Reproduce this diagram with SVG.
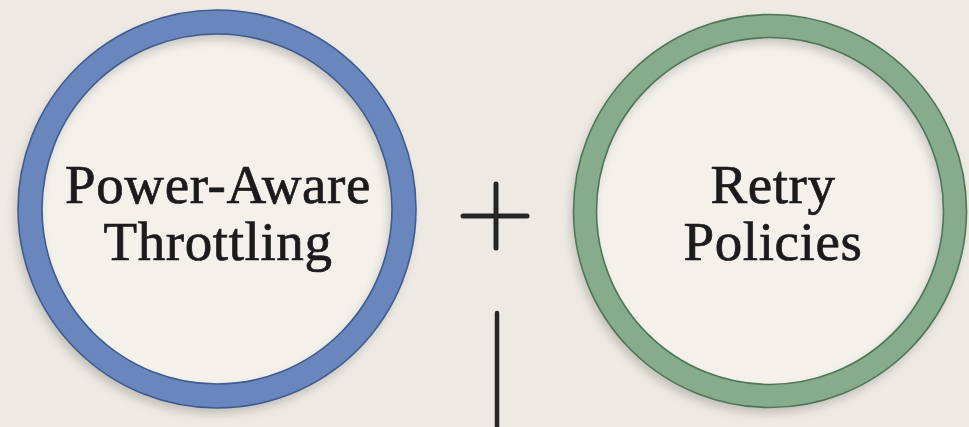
<svg xmlns="http://www.w3.org/2000/svg" width="969" height="427" viewBox="0 0 969 427">
  <defs>
    <filter id="soft" x="-20%" y="-20%" width="140%" height="140%">
      <feGaussianBlur in="SourceAlpha" stdDeviation="5"/>
      <feOffset dx="-3" dy="6" result="b"/>
      <feFlood flood-color="#000" flood-opacity="0.18"/>
      <feComposite in2="b" operator="in"/>
      <feMerge><feMergeNode/><feMergeNode in="SourceGraphic"/></feMerge>
    </filter>
    <style>
      .label { font-family: "Liberation Serif", "DejaVu Serif", serif; font-size: 55px; fill: #1b1b1b; stroke: #1b1b1b; stroke-width: 0.7; letter-spacing: 0.6px; text-anchor: middle; }
      .face { fill: #f4f1eb; }
      .edge { fill: none; stroke-width: 1.6; }
      .mark { stroke: #262626; stroke-linecap: round; fill: none; }
    </style>
  </defs>
  <rect width="969" height="427" fill="#eeeae3"/>

  <g id="power-aware-throttling">
    <circle cx="217" cy="209" r="187" class="face"/>
    <circle cx="217" cy="209" r="187" fill="none" stroke="#6986bd" stroke-width="24" filter="url(#soft)"/>
    <circle cx="217" cy="209" r="199" class="edge" stroke="#3f5b8f"/>
    <circle cx="217" cy="209" r="175" class="edge" stroke="#3f5b8f"/>
    <text class="label" x="218" y="203">Power-Aware</text>
    <text class="label" x="218" y="260">Throttling</text>
  </g>

  <g id="retry-policies">
    <circle cx="770" cy="211" r="185" class="face"/>
    <circle cx="770" cy="211" r="185" fill="none" stroke="#87ab8d" stroke-width="23" filter="url(#soft)"/>
    <circle cx="770" cy="211" r="196.5" class="edge" stroke="#4f7656"/>
    <circle cx="770" cy="211" r="173.5" class="edge" stroke="#4f7656"/>
    <text class="label" x="773" y="203">Retry</text>
    <text class="label" x="773" y="260">Policies</text>
  </g>

  <g id="connectors">
    <line class="mark" x1="463" y1="216" x2="527" y2="216" stroke-width="5"/>
    <line class="mark" x1="496" y1="184" x2="496" y2="248" stroke-width="5"/>
    <line class="mark" x1="497" y1="313" x2="497" y2="430" stroke-width="4.5"/>
  </g>
</svg>
